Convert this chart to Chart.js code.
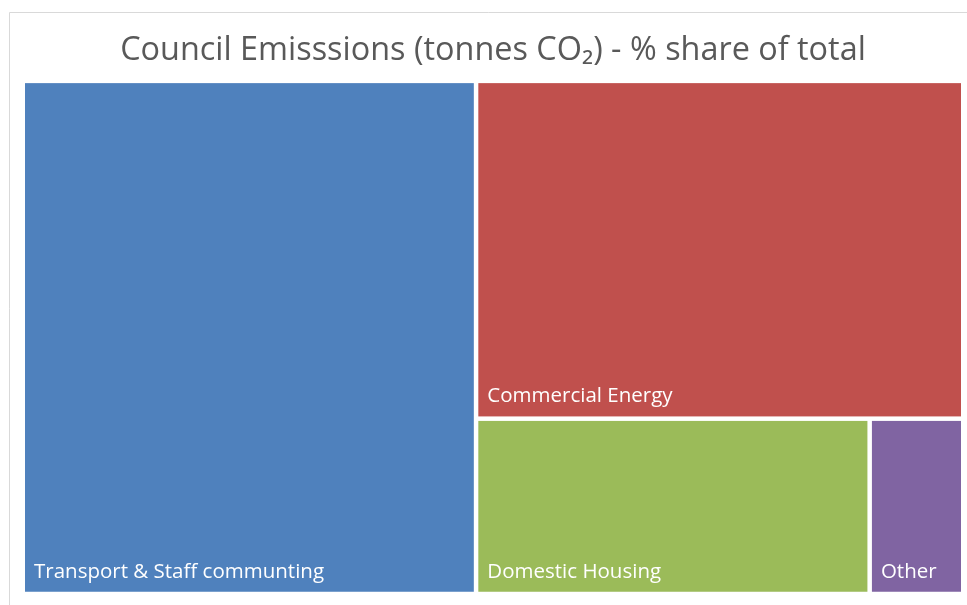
<!DOCTYPE html>
<html>
<head>
<meta charset="utf-8">
<script src="https://cdn.jsdelivr.net/npm/chart.js@4.4.1/dist/chart.umd.min.js"></script>
<style>
    html, body { margin: 0; padding: 0; background: #fff; }
    #wrap { position: relative; width: 967px; height: 605px; }
</style>
</head>
<body>
<div id="wrap"><canvas id="chart"></canvas></div>
<script>
const categories = ['Transport & Staff communting', 'Commercial Energy', 'Domestic Housing', 'Other'];
const shares = [48.2, 34.1, 14.3, 3.4];
const palette = ['#4F81BD', '#C0504D', '#9BBB59', '#8064A2'];
const chartTitle = 'Council Emisssions (tonnes CO\u2082) - % share of total';

// squarified layout in a w x h box, returns rects in the same units
const squarify = (values, w, h) => {
    const total = values.reduce((a, b) => a + b, 0);
    const k = (w * h) / total;
    const items = values.map((v, i) => ({ i, a: v * k }));
    const rects = [];
    let x = 0;
    let y = 0;

    const worst = (row, side) => {
        const s = row.reduce((acc, r) => acc + r.a, 0);
        const max = Math.max(...row.map((r) => r.a));
        const min = Math.min(...row.map((r) => r.a));
        return Math.max((side * side * max) / (s * s), (s * s) / (side * side * min));
    };

    const place = (row) => {
        const s = row.reduce((acc, r) => acc + r.a, 0);
        if (w >= h) {
            const cw = s / h;
            let cy = y;
            row.forEach((r) => {
                const rh = r.a / cw;
                rects[r.i] = { x0: x, y0: cy, x1: x + cw, y1: cy + rh };
                cy += rh;
            });
            x += cw;
            w -= cw;
        } else {
            const rh = s / w;
            let cx = x;
            row.forEach((r) => {
                const cw = r.a / rh;
                rects[r.i] = { x0: cx, y0: y, x1: cx + cw, y1: y + rh };
                cx += cw;
            });
            y += rh;
            h -= rh;
        }
    };

    let row = [];
    items.forEach((item) => {
        const side = Math.min(w, h);
        if (!row.length || worst([...row, item], side) <= worst(row, side)) {
            row.push(item);
        } else {
            place(row);
            row = [item];
        }
    });
    if (row.length) {
        place(row);
    }
    return rects;
};

const framePlugin = {
    id: 'frame',
    beforeDraw(chart) {
        const { ctx, width, height } = chart;
        ctx.save();
        ctx.fillStyle = '#ffffff';
        ctx.fillRect(0, 0, width, height);
        ctx.strokeStyle = '#d9d9d9';
        ctx.lineWidth = 1;
        ctx.beginPath();
        ctx.moveTo(9.5, height);
        ctx.lineTo(9.5, 12.5);
        ctx.lineTo(width, 12.5);
        ctx.stroke();
        ctx.restore();
    },
};

const treemapPlugin = {
    id: 'treemap',
    afterDatasetsDraw(chart) {
        const { ctx, chartArea, scales } = chart;
        const dataset = chart.data.datasets[0];
        const aspect = chartArea.width / chartArea.height;
        const rects = squarify(dataset.values, aspect, 1);
        const gap = 2.25;

        ctx.save();
        rects.forEach((r, index) => {
            const left = scales.x.getPixelForValue((r.x0 / aspect) * 100) + gap;
            const right = scales.x.getPixelForValue((r.x1 / aspect) * 100) - gap;
            const top = scales.y.getPixelForValue(r.y0 * 100) + gap;
            const bottom = scales.y.getPixelForValue(r.y1 * 100) - gap;

            ctx.fillStyle = dataset.backgroundColor[index];
            ctx.fillRect(left, top, right - left, bottom - top);

            ctx.fillStyle = '#ffffff';
            ctx.font = '20.5px "Open Sans"';
            ctx.textAlign = 'left';
            ctx.textBaseline = 'alphabetic';
            ctx.fillText(chart.data.labels[index], left + 9, bottom - 14);
        });
        ctx.restore();
    },
};

new Chart(document.getElementById('chart'), {
    type: 'scatter',
    data: {
        labels: categories,
        datasets: [
            {
                label: 'Share',
                data: [],
                values: shares,
                backgroundColor: palette,
            },
        ],
    },
    options: {
        responsive: true,
        maintainAspectRatio: false,
        animation: false,
        layout: {
            padding: { left: 22.75, right: 3.75, top: 0, bottom: 11 },
        },
        scales: {
            x: { type: 'linear', min: 0, max: 100, display: false },
            y: { type: 'linear', min: 0, max: 100, reverse: true, display: false },
        },
        plugins: {
            legend: { display: false },
            tooltip: { enabled: false },
            title: {
                display: true,
                text: chartTitle,
                color: '#595959',
                font: { family: 'Open Sans', size: 32.4, weight: 'normal', lineHeight: 1.2 },
                padding: { top: 31, bottom: 11 },
            },
        },
    },
    plugins: [framePlugin, treemapPlugin],
});
</script>
</body>
</html>
